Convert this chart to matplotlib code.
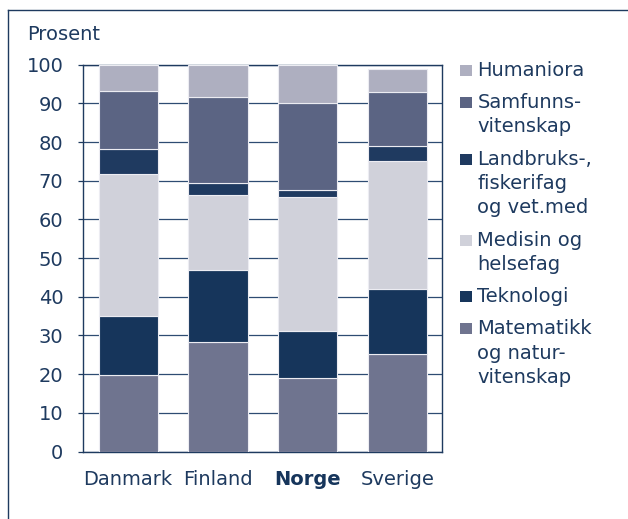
import matplotlib
matplotlib.use('Agg')
import matplotlib.pyplot as plt
from matplotlib.patches import Rectangle
from matplotlib.lines import Line2D

# ---- data ----
countries = ['Danmark', 'Finland', 'Norge', 'Sverige']
matematikk = [19.8, 28.4, 19.0, 25.1]
teknologi = [15.3, 18.6, 12.2, 16.9]
medisin = [36.6, 19.3, 34.7, 33.1]
landbruk = [6.6, 3.0, 1.6, 3.9]
samfunn = [14.8, 22.4, 22.6, 14.0]
humaniora = [6.9, 8.3, 9.9, 6.0]
series_labels = ['Matematikk\nog natur-\nvitenskap', 'Teknologi',
                 'Medisin og\nhelsefag', 'Landbruks-,\nfiskerifag\nog vet.med',
                 'Samfunns-\nvitenskap', 'Humaniora']
yticks = [0, 10, 20, 30, 40, 50, 60, 70, 80, 90, 100]
ylabel = 'Prosent'

# ---- style ----
series = [matematikk, teknologi, medisin, landbruk, samfunn, humaniora]
colors = ['#6f748f', '#16355b', '#d0d1da', '#1f3a60', '#5b6483', '#aeafc0']
navy = '#1e3a5f'
FS = 14

W, H = 628, 519
fig = plt.figure(figsize=(W / 100, H / 100), dpi=100)
plt.rcParams['font.family'] = ['DejaVu Sans']


def fx(x):
    return x / W


def fy(y):
    return 1 - y / H


ax = fig.add_axes([fx(83.3), fy(451.5), fx(442.3) - fx(83.3), fy(64.7) - fy(451.5)])

x = list(range(len(countries)))
bottom = [0.0] * len(countries)
for vals, col in zip(series, colors):
    ax.bar(x, vals, bottom=bottom, width=0.66, color=col,
           edgecolor='#ececf2', linewidth=0.8, zorder=3)
    bottom = [b + v for b, v in zip(bottom, vals)]

ax.set_xlim(-0.5, len(countries) - 0.5)
ax.set_ylim(0, 100)
ax.set_yticks(yticks)
ax.set_yticklabels([str(t) for t in yticks])
ax.yaxis.grid(True, color='#2e4c72', linewidth=0.9, zorder=0)
ax.set_axisbelow(True)
for s in ax.spines.values():
    s.set_color(navy)
    s.set_linewidth(1.0)
ax.tick_params(axis='y', length=3.3, width=0.9, color=navy, pad=11,
               labelsize=FS, labelcolor=navy)
ax.set_xticks(x)
ax.set_xticklabels(countries)
ax.tick_params(axis='x', length=0, pad=13.5, labelsize=FS, labelcolor=navy)
for i, lbl in enumerate(ax.get_xticklabels()):
    if countries[i] == 'Norge':
        lbl.set_fontweight('bold')
        lbl.set_color('#16355b')

fig.text(fx(27.3), fy(40), ylabel, fontsize=FS, color=navy, va='baseline', ha='left')

# ---- legend (manual) ----
base = 75.7
for lab, col in zip(series_labels[::-1], colors[::-1]):
    lines = lab.split('\n')
    fig.patches.append(Rectangle((fx(460), fy(base)), fx(471.5) - fx(460),
                                 fy(base - 11) - fy(base), transform=fig.transFigure,
                                 facecolor=col, edgecolor='none'))
    for k, ln in enumerate(lines):
        fig.text(fx(477.3), fy(base + k * 24.3), ln, fontsize=FS, color=navy,
                 va='baseline', ha='left')
    base += 32.3 + (len(lines) - 1) * 24.3

# ---- outer frame ----
fig.lines.append(Line2D([fx(8), fx(8)], [0, fy(10)], transform=fig.transFigure,
                        color=navy, linewidth=1.0))
fig.lines.append(Line2D([fx(8), 1], [fy(10), fy(10)], transform=fig.transFigure,
                        color=navy, linewidth=1.0))

fig.savefig('out.png', dpi=100)
